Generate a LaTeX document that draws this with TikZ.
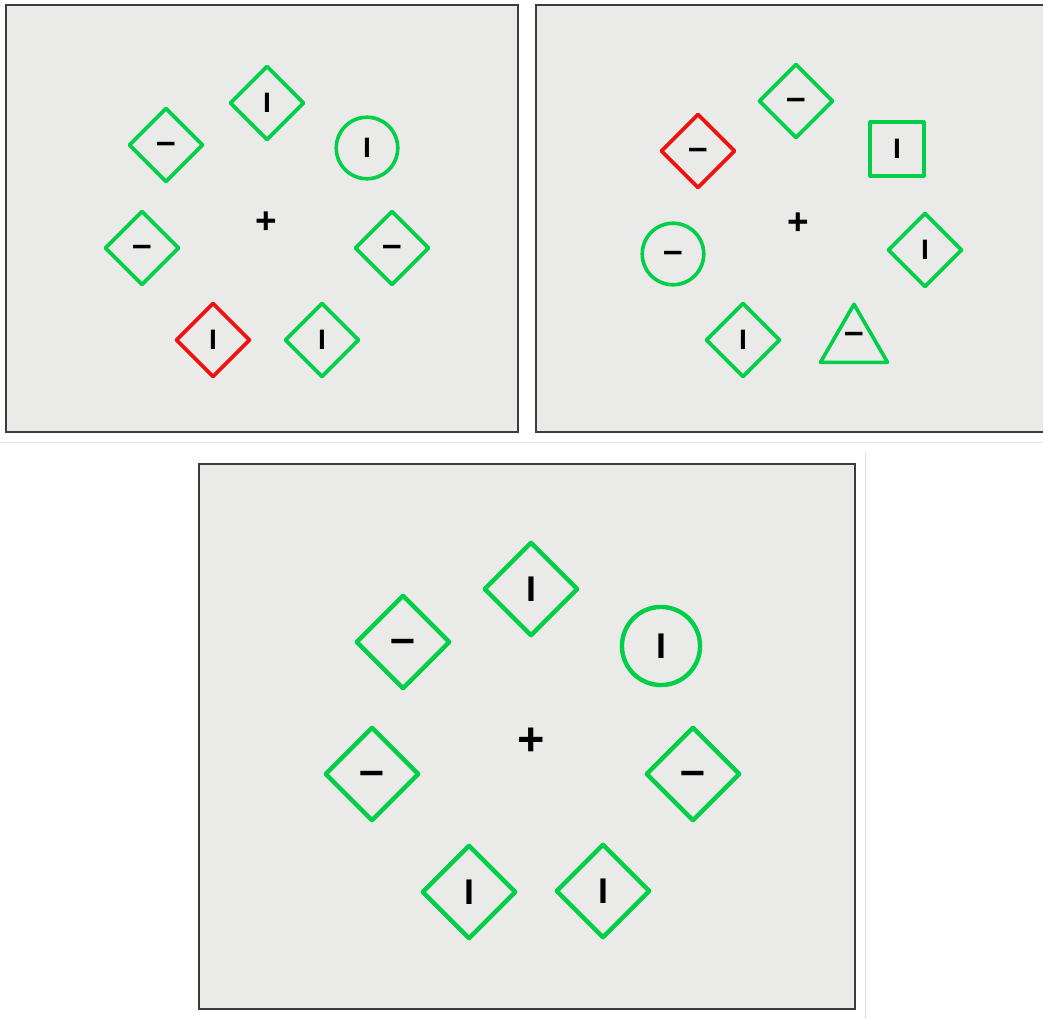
\documentclass[tikz,border=0pt]{standalone}
\usepackage{fontspec}
\setmainfont{Liberation Sans}
\usepackage{tikz}
\usetikzlibrary{shapes.geometric}
\definecolor{stimgreen}{HTML}{00CF47}
\definecolor{stimred}{HTML}{F01010}
\definecolor{panelgray}{HTML}{EAEAE8}
\definecolor{framegray}{HTML}{3C3C3C}

\begin{document}
\begin{tikzpicture}[
  x=0.2mm, y=-0.2mm,
  panel/.style={draw=framegray, line width=0.55mm, fill=panelgray},
  item/.style={draw=stimgreen, line width=0.72mm, line join=round, inner sep=0pt},
  diam/.style={item, diamond, aspect=1, minimum size=14.9mm},
  circ/.style={item, circle, minimum size=12.3mm},
  sqr/.style={item, rectangle, minimum size=10.7mm},
  tri/.style={item, regular polygon, regular polygon sides=3, minimum size=15.5mm},
  odd/.style={draw=stimred},
  big/.style={scale=1.27, line width=0.88mm},
  vtxt/.style={font=\fontsize{16}{16}\selectfont\bfseries},
  htxt/.style={font=\fontsize{20}{20}\selectfont\bfseries, text height=10.2pt, text depth=0pt},
  fix/.style={inner sep=0pt, font=\fontsize{21}{21}\selectfont\bfseries, text height=14.8pt, text depth=0pt},
]
  \useasboundingbox (0,0) rectangle (1043,1019);
  \fill[white] (0,0) rectangle (1043,1019);
  \draw[gray!20, line width=0.2mm] (0,442) -- (1043,442);
  \draw[gray!25, line width=0.2mm] (865,452) -- (865,1019);

  \draw[panel] (6,5) rectangle (518,432);
  \fill[panelgray] (536,5) rectangle (1043,432);
  \draw[framegray, line width=0.55mm] (1043,5) -- (536,5) -- (536,432) -- (1043,432);
  \draw[panel] (199,464) rectangle (855,1009);

  \node[diam, vtxt] (p1top) at (267,103) {I};
  \node[diam, htxt] (p1ul) at (166,145) {–};
  \node[circ, vtxt] (p1circ) at (367,148) {I};
  \node[diam, htxt] (p1left) at (142,248) {–};
  \node[fix] (p1fix) at (266,220) {+};
  \node[diam, htxt] (p1right) at (392,248) {–};
  \node[diam, odd, vtxt] (p1red) at (213,340) {I};
  \node[diam, vtxt] (p1br) at (322,340) {I};

  \node[diam, htxt] (p2top) at (796,101) {–};
  \node[diam, odd, htxt] (p2red) at (698,151) {–};
  \node[sqr, vtxt] (p2sq) at (897,149) {I};
  \node[fix] (p2fix) at (798,221) {+};
  \node[circ, htxt] (p2circ) at (673,254) {–};
  \node[diam, vtxt] (p2right) at (925,250) {I};
  \node[diam, vtxt] (p2bl) at (743,340) {I};
  \node[tri] (p2tri) at (854,343) {};
  \node[htxt] (p2trilab) at (854,335) {–};

  \node[diam, big, vtxt] (p3top) at (531,589) {I};
  \node[diam, big, htxt] (p3ul) at (403,642) {–};
  \node[circ, big, vtxt] (p3circ) at (661,646) {I};
  \node[fix, big] (p3fix) at (531,739) {+};
  \node[diam, big, htxt] (p3left) at (372,774) {–};
  \node[diam, big, htxt] (p3right) at (693,774) {–};
  \node[diam, big, vtxt] (p3bl) at (469,892) {I};
  \node[diam, big, vtxt] (p3br) at (603,891) {I};
\end{tikzpicture}
\end{document}
